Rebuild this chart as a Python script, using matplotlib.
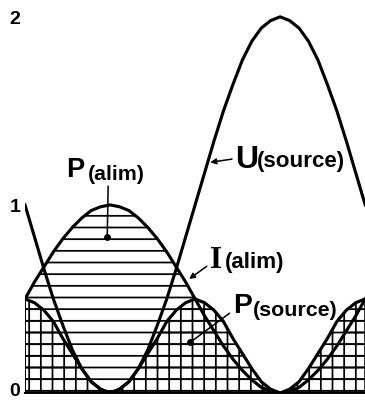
# waveforms of the supply: U(source), I(alim), P(alim) and P(source)

import numpy as np
import matplotlib
matplotlib.use('Agg')
import matplotlib.pyplot as plt
from matplotlib.transforms import ScaledTranslation

# phase axis, degrees (one full period shown)
phase = [-90, -80, -70, -60, -50, -40, -30, -20, -10, 0,
         10, 20, 30, 40, 50, 60, 70, 80, 90, 100,
         110, 120, 130, 140, 150, 160, 170, 180, 190, 200,
         210, 220, 230, 240, 250, 260, 270]

# source voltage
u_source = [1.00, 0.83, 0.66, 0.50, 0.36, 0.23, 0.13, 0.06, 0.02, 0.00,
            0.02, 0.06, 0.13, 0.23, 0.36, 0.50, 0.66, 0.83, 1.00, 1.17,
            1.34, 1.50, 1.64, 1.77, 1.87, 1.94, 1.98, 2.00, 1.98, 1.94,
            1.87, 1.77, 1.64, 1.50, 1.34, 1.17, 1.00]

# supply current / power drawn by the supply
p_alim = [0.50, 0.59, 0.67, 0.75, 0.82, 0.88, 0.93, 0.97, 0.99, 1.00,
          0.99, 0.97, 0.93, 0.88, 0.82, 0.75, 0.67, 0.59, 0.50, 0.41,
          0.33, 0.25, 0.18, 0.12, 0.07, 0.03, 0.01, 0.00, 0.01, 0.03,
          0.07, 0.12, 0.18, 0.25, 0.33, 0.41, 0.50]

# power delivered by the source
p_source = [0.50, 0.48, 0.44, 0.38, 0.29, 0.21, 0.13, 0.06, 0.02, 0.00,
            0.02, 0.06, 0.13, 0.21, 0.29, 0.38, 0.44, 0.48, 0.50, 0.48,
            0.44, 0.38, 0.29, 0.21, 0.13, 0.06, 0.02, 0.00, 0.02, 0.06,
            0.13, 0.21, 0.29, 0.38, 0.44, 0.48, 0.50]

ytick_vals = [0, 1, 2]
ytick_labels = ['0', '1', '2']

phase = np.array(phase)
u_source = np.array(u_source)
p_alim = np.array(p_alim)
p_source = np.array(p_source)

plt.rcParams['font.family'] = ['Liberation Sans', 'DejaVu Sans']
plt.rcParams['font.weight'] = 'bold'
plt.rcParams['hatch.linewidth'] = 1.8

DPI = 70
fig = plt.figure(figsize=(365.2 / DPI, 400.2 / DPI), dpi=DPI)
ax = fig.add_axes([25 / 365., 7 / 400., 340 / 365., 393 / 400.])

# hatched areas
ax.fill_between(phase, 0, p_alim, facecolor='none', edgecolor='black',
                hatch='-', linewidth=0)
ax.fill_between(phase, 0, p_source, facecolor='none', edgecolor='black',
                hatch='+', linewidth=2)

# curves
ax.plot(phase, p_source, color='black', lw=3.2)
ax.plot(phase, p_alim, color='black', lw=3.2)
ax.plot(phase, u_source, color='black', lw=3.2)

ax.set_xlim(-90, 270)
ax.set_ylim(0, 393 / 188.)

for s in ['left', 'top', 'right']:
    ax.spines[s].set_visible(False)
ax.spines['bottom'].set_linewidth(2)
ax.set_xticks([])
ax.set_yticks(ytick_vals)
ax.set_yticklabels(ytick_labels, fontsize=20, fontweight='bold')
ax.tick_params(axis='y', length=0, pad=5)
# lift the "0" a little so it stays inside the picture
lab0 = ax.get_yticklabels()[0]
lab0.set_transform(lab0.get_transform() +
                   ScaledTranslation(0, 4 / 72., fig.dpi_scale_trans))

# labels
ax.text(-47, 1.15, 'P', fontsize=28, ha='left', va='baseline')
ax.text(-23, 1.135, '(alim)', fontsize=22, ha='left', va='baseline')
ax.annotate('', xy=(-3, 0.83), xytext=(-2, 1.11),
            arrowprops=dict(arrowstyle='-', lw=1.6, color='black'))
ax.plot([-3], [0.83], 'o', color='black', ms=6)

ax.text(132, 1.197, 'U', fontsize=33, ha='left', va='baseline')
ax.text(155, 1.2, '(source)', fontsize=23, ha='left', va='baseline')
ax.annotate('', xy=(104, 1.225), xytext=(131, 1.245),
            arrowprops=dict(arrowstyle='-|>', lw=1.6, color='black',
                            mutation_scale=12))

ax.text(106, 0.665, 'I', fontsize=32, ha='left', va='baseline',
        family=['Liberation Serif', 'DejaVu Serif'])
ax.text(122, 0.665, '(alim)', fontsize=23, ha='left', va='baseline')
ax.annotate('', xy=(82, 0.60), xytext=(104, 0.68),
            arrowprops=dict(arrowstyle='-|>', lw=1.6, color='black',
                            mutation_scale=12))

ax.text(130, 0.426, 'P', fontsize=29, ha='left', va='baseline')
ax.text(151, 0.41, '(source)', fontsize=22, ha='left', va='baseline')
ax.annotate('', xy=(85, 0.27), xytext=(128, 0.43),
            arrowprops=dict(arrowstyle='-', lw=1.6, color='black'))
ax.plot([85], [0.27], 'o', color='black', ms=6)

fig.savefig('out.png', dpi=DPI)
